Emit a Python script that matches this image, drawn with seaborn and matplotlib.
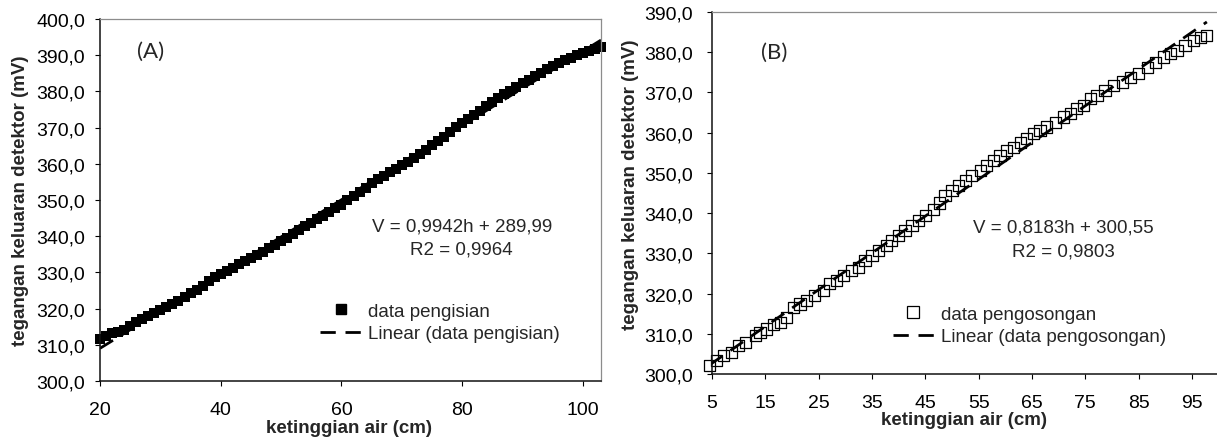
import matplotlib
matplotlib.use("Agg")
import matplotlib.pyplot as plt
from matplotlib.lines import Line2D
import seaborn as sns
import pandas as pd

# ---------------- data ----------------
h_pengisian = [20, 21, 22, 23, 24, 25, 26, 27, 28, 29, 30, 31, 32, 33, 34, 35, 36, 37, 38, 39,
               40, 41, 42, 43, 44, 45, 46, 47, 48, 49, 50, 51, 52, 53, 54, 55, 56, 57, 58, 59,
               60, 61, 62, 63, 64, 65, 66, 67, 68, 69, 70, 71, 72, 73, 74, 75, 76, 77, 78, 79,
               80, 81, 82, 83, 84, 85, 86, 87, 88, 89, 90, 91, 92, 93, 94, 95, 96, 97, 98, 99,
               100, 101, 102, 103]
v_pengisian = [311.5, 312.3, 313.2, 313.5, 314.2, 315.3, 316.2, 317.1, 318.0, 318.8,
               319.7, 320.5, 321.4, 322.2, 323.2, 324.2, 325.2, 326.3, 327.5, 328.6,
               329.5, 330.3, 331.2, 332.2, 333.1, 333.9, 334.8, 335.7, 336.7, 337.7,
               338.7, 339.6, 340.7, 341.7, 342.7, 343.7, 344.7, 345.7, 346.7, 347.7,
               348.7, 349.9, 351.1, 352.3, 353.4, 354.6, 355.7, 356.7, 357.7, 358.7,
               359.7, 360.6, 361.6, 362.7, 363.9, 365.1, 366.3, 367.5, 368.8, 370.1,
               371.4, 372.5, 373.6, 374.7, 375.9, 377.1, 378.2, 379.2, 380.2, 381.2,
               382.2, 383.2, 384.2, 385.2, 386.1, 386.9, 387.8, 388.6, 389.3, 390.0,
               390.6, 391.2, 391.8, 392.4]

h_pengosongan = [4.6, 5.9, 7.1, 8.7, 9.9, 11.2, 13.1, 14.0, 15.3, 16.5, 17.8, 19.0, 20.3, 21.5,
                 22.8, 24.3, 25.9, 27.1, 28.4, 29.6, 31.2, 32.4, 33.7, 35.0, 36.2, 37.8, 38.7,
                 40.0, 41.2, 42.5, 43.7, 45.0, 46.6, 47.6, 48.7, 50.0, 51.2, 52.5, 53.7, 55.3,
                 56.5, 57.8, 59.0, 60.3, 61.5, 62.8, 64.0, 65.3, 66.5, 67.8, 69.4, 70.9, 72.2,
                 73.4, 74.7, 75.9, 77.2, 78.7, 80.3, 81.9, 83.4, 85.0, 86.6, 88.1, 89.7, 91.0,
                 92.2, 93.7, 95.3, 96.6, 97.8]
v_pengosongan = [302.1, 303.3, 304.6, 305.4, 307.0, 307.9, 309.5, 310.4, 311.2, 312.4, 312.9,
                 314.1, 316.6, 317.4, 318.2, 319.5, 320.7, 322.4, 323.2, 324.5, 325.7, 326.5,
                 328.2, 329.4, 330.7, 331.9, 333.2, 334.4, 335.6, 336.9, 338.1, 339.4, 341.0,
                 342.5, 344.4, 345.6, 346.8, 348.1, 349.3, 350.6, 351.8, 353.1, 354.3, 355.6,
                 356.4, 357.6, 358.5, 359.7, 360.5, 361.4, 362.6, 363.9, 364.7, 365.9, 366.7,
                 368.4, 369.2, 370.5, 371.7, 372.6, 373.8, 374.6, 376.3, 377.5, 378.8, 379.6,
                 380.4, 381.7, 382.9, 383.7, 384.2]

xticks_a = [20, 40, 60, 80, 100]
xticks_b = [5, 15, 25, 35, 45, 55, 65, 75, 85, 95]
yticks_a = [300, 310, 320, 330, 340, 350, 360, 370, 380, 390, 400]
yticks_b = [300, 310, 320, 330, 340, 350, 360, 370, 380, 390]

eq_a = ["V = 0,9942h + 289,99", "R2 = 0,9964"]
eq_b = ["V = 0,8183h + 300,55", "R2 = 0,9803"]
xlabel = "ketinggian air (cm)"
ylabel = "tegangan keluaran detektor (mV)"

df_a = pd.DataFrame({"h": h_pengisian, "V": v_pengisian})
df_b = pd.DataFrame({"h": h_pengosongan, "V": v_pengosongan})

# ---------------- style ----------------
sns.set_style("white")
plt.rcParams["font.family"] = ["Liberation Sans", "DejaVu Sans"]

W, H = 1217, 439
fig = plt.figure(figsize=(W / 100, H / 100), dpi=100)

def px_axes(l, t, r, b):
    return [l / W, 1 - b / H, (r - l) / W, (b - t) / H]

ax_a = fig.add_axes(px_axes(100, 20, 601, 382))
ax_b = fig.add_axes(px_axes(712, 13, 1217, 375))

DASH = (0, (5.5, 3.5))
FS = 13.5


def style_axes(ax, xt, yt, xlim, ylim, ypad):
    ax.set_xlim(*xlim)
    ax.set_ylim(*ylim)
    ax.set_xticks(xt)
    ax.set_yticks(yt)
    ax.set_xticklabels([str(v) for v in xt])
    ax.set_yticklabels([f"{v:.1f}".replace(".", ",") for v in yt])
    ax.tick_params(axis="both", direction="out", length=3.6, width=0.8,
                   color="black", labelsize=14, labelcolor="black")
    ax.tick_params(axis="x", pad=10.5)
    ax.tick_params(axis="y", pad=ypad)
    ax.tick_params(left=True, bottom=True)
    for s in ["left", "bottom"]:
        ax.spines[s].set_color("#111111")
        ax.spines[s].set_linewidth(1.1)
    for s in ["top", "right"]:
        ax.spines[s].set_color("#8c8c8c")
        ax.spines[s].set_linewidth(0.9)
    ax.set_xlabel(xlabel, fontsize=FS, fontweight="bold")
    ax.set_ylabel(ylabel, fontsize=FS, fontweight="bold")
    ax.grid(False)


# ---------- panel A ----------
sns.regplot(data=df_a, x="h", y="V", ax=ax_a, scatter=False, ci=None, truncate=True,
            line_kws={"color": "black", "lw": 2.0, "ls": DASH, "zorder": 1})
sns.scatterplot(data=df_a, x="h", y="V", ax=ax_a, marker="s", s=46, color="black",
                edgecolor="black", linewidth=0, clip_on=False, zorder=2)
style_axes(ax_a, xticks_a, yticks_a, (20, 103), (300, 400), 7.2)
ax_a.xaxis.set_label_coords(0.497, -0.105)
ax_a.yaxis.set_label_coords(-0.1417, 0.5)

ax_a.text(0.074, 0.9116, "(A)", transform=ax_a.transAxes, fontsize=16,
          family=["Lato", "DejaVu Sans"], ha="left", va="center")
ax_a.text(0.7226, 0.428, eq_a[0], transform=ax_a.transAxes, fontsize=FS, ha="center", va="center")
ax_a.text(0.7206, 0.3646, eq_a[1], transform=ax_a.transAxes, fontsize=FS, ha="center", va="center")

handles_a = [Line2D([], [], marker="s", ls="none", color="black", ms=7.5),
             Line2D([], [], color="black", lw=2.0, ls=DASH)]
ax_a.legend(handles_a, ["data pengisian", "Linear (data pengisian)"], loc="upper left",
            bbox_to_anchor=(0.439, 0.217), frameon=False, fontsize=FS, borderpad=0,
            borderaxespad=0, handlelength=2.2, handletextpad=0.35, labelspacing=0.3)

# ---------- panel B ----------
sns.regplot(data=df_b, x="h", y="V", ax=ax_b, scatter=False, ci=None, truncate=True,
            line_kws={"color": "black", "lw": 2.0, "ls": DASH, "zorder": 3})
sns.scatterplot(data=df_b, x="h", y="V", ax=ax_b, marker="s", s=64, color="none",
                edgecolor="black", linewidth=0.9, clip_on=False, zorder=2)
style_axes(ax_b, xticks_b, yticks_b, (5, 99.7), (300, 390), 10)
ax_b.spines["right"].set_visible(False)
ax_b.xaxis.set_label_coords(0.499, -0.102)
ax_b.yaxis.set_label_coords(-0.1446, 0.525)

ax_b.text(0.097, 0.889, "(B)", transform=ax_b.transAxes, fontsize=16,
          family=["Lato", "DejaVu Sans"], ha="left", va="center")
ax_b.text(0.695, 0.406, eq_b[0], transform=ax_b.transAxes, fontsize=FS, ha="center", va="center")
ax_b.text(0.695, 0.340, eq_b[1], transform=ax_b.transAxes, fontsize=FS, ha="center", va="center")

handles_b = [Line2D([], [], marker="s", ls="none", markerfacecolor="none",
                    markeredgecolor="black", markeredgewidth=0.9, ms=9),
             Line2D([], [], color="black", lw=2.0, ls=DASH)]
ax_b.legend(handles_b, ["data pengosongan", "Linear (data pengosongan)"], loc="upper left",
            bbox_to_anchor=(0.358, 0.189), frameon=False, fontsize=FS, borderpad=0,
            borderaxespad=0, handlelength=2.2, handletextpad=0.35, labelspacing=0.3)

fig.savefig("out.png", dpi=100)
